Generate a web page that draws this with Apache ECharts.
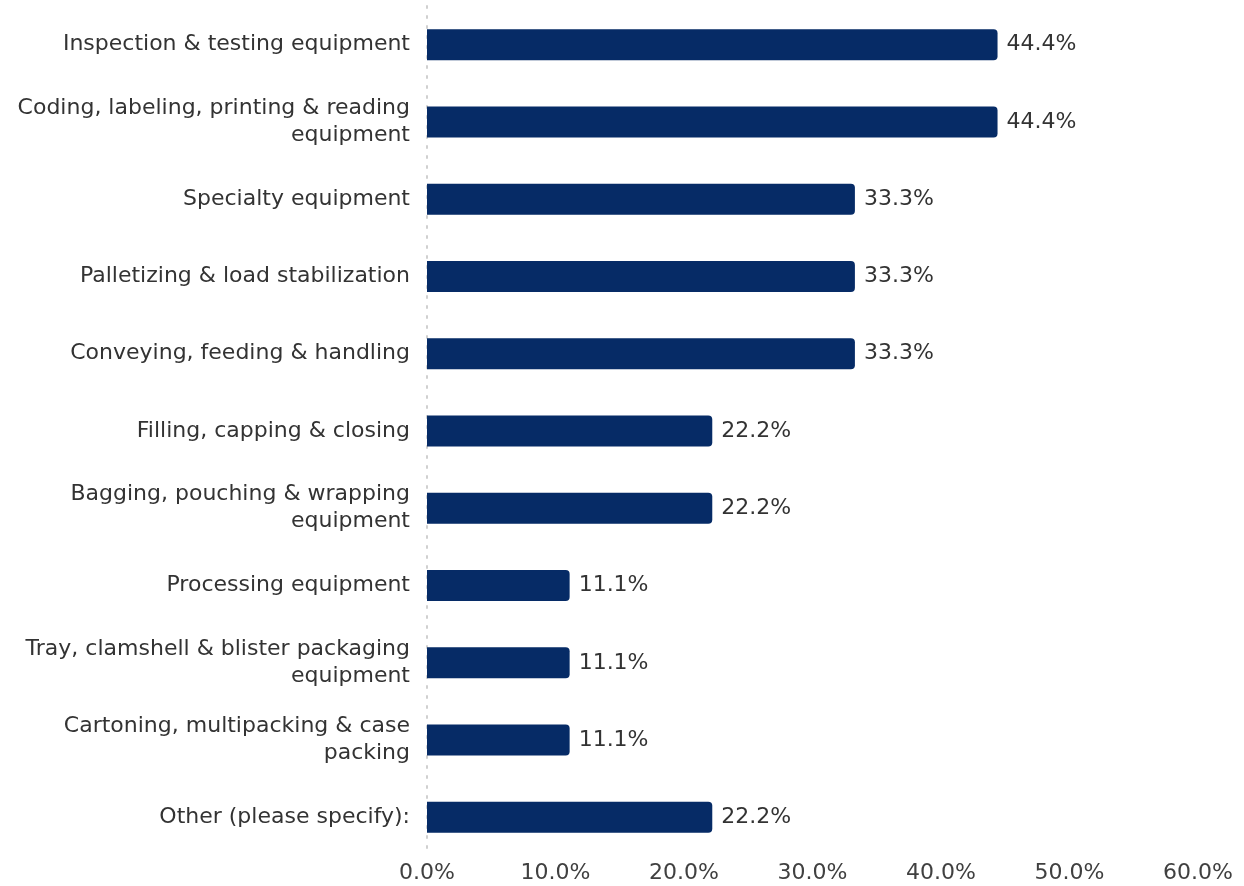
<!DOCTYPE html>
<html>
<head>
<meta charset="utf-8">
<script src="https://cdn.jsdelivr.net/npm/echarts@6/dist/echarts.min.js"></script>
<style>
  html, body { margin: 0; padding: 0; background: #fff; }
  #chart { width: 1244px; height: 886px; }
</style>
</head>
<body>
<div id="chart"></div>
<script>
// Survey categories, top to bottom
const categories = [
  'Inspection & testing equipment',
  'Coding, labeling, printing & reading\nequipment',
  'Specialty equipment',
  'Palletizing & load stabilization',
  'Conveying, feeding & handling',
  'Filling, capping & closing',
  'Bagging, pouching & wrapping\nequipment',
  'Processing equipment',
  'Tray, clamshell & blister packaging\nequipment',
  'Cartoning, multipacking & case\npacking',
  'Other (please specify):'
];
// Share of respondents (%)
const shares = [44.4, 44.4, 33.3, 33.3, 33.3, 22.2, 22.2, 11.1, 11.1, 11.1, 22.2];

const FONT = 'DejaVu Sans';
const chart = echarts.init(document.getElementById('chart'));
chart.setOption({
  backgroundColor: '#ffffff',
  animation: false,
  grid: { left: 427, right: 46, top: 6, bottom: 30, containLabel: false },
  xAxis: {
    type: 'value',
    min: 0,
    max: 60,
    interval: 10,
    axisLine: { show: false },
    axisTick: { show: false },
    splitLine: { show: false },
    axisLabel: {
      formatter: v => v.toFixed(1) + '%',
      color: '#404040',
      fontFamily: FONT,
      fontSize: 22,
      margin: 6
    }
  },
  yAxis: {
    type: 'category',
    inverse: true,
    data: categories,
    axisLine: { show: true, lineStyle: { color: '#d0d0d0', type: [2, 8], width: 2 } },
    axisTick: { show: false },
    axisLabel: {
      color: '#333333',
      fontFamily: FONT,
      fontSize: 22,
      lineHeight: 27,
      margin: 17,
      align: 'right'
    }
  },
  series: [{
    type: 'bar',
    data: shares,
    barWidth: 31,
    itemStyle: { color: '#062b66', borderRadius: [0, 4, 4, 0] },
    label: {
      show: true,
      position: 'right',
      distance: 9,
      formatter: p => p.value.toFixed(1) + '%',
      color: '#333333',
      fontFamily: FONT,
      fontSize: 22
    }
  }]
});
</script>
</body>
</html>
